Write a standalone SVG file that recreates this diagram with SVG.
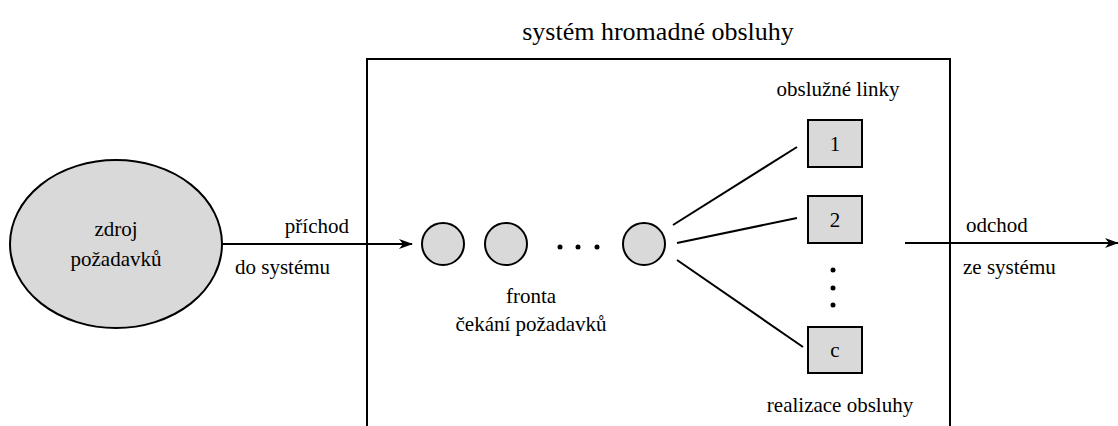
<svg xmlns="http://www.w3.org/2000/svg" width="1118" height="426" viewBox="0 0 1118 426">
<defs>
<marker id="ah" viewBox="0 0 14 10" refX="13" refY="5" markerWidth="14" markerHeight="10" markerUnits="userSpaceOnUse" orient="auto">
<path d="M0,0 L14,5 L0,10 L4,5 Z" fill="#000"/>
</marker>
</defs>
<text font-family="Times New Roman, Liberation Serif, serif" font-size="26" x="658" y="40" text-anchor="middle">systém hromadné obsluhy</text>
<g id="system" fill="none" stroke="#000" stroke-width="2"><path d="M367,426 V59 H950 V426"/></g>
<g id="source"><ellipse fill="#d9d9d9" stroke="#000" stroke-width="2" cx="116" cy="244" rx="106" ry="84"/>
<text font-family="Times New Roman, Liberation Serif, serif" font-size="21" x="116" y="236" text-anchor="middle">zdroj</text>
<text font-family="Times New Roman, Liberation Serif, serif" font-size="21" x="116" y="266" text-anchor="middle">požadavků</text></g>
<g id="queue">
<g fill="#d9d9d9" stroke="#000" stroke-width="2">
<circle cx="443" cy="244" r="21"/>
<circle cx="506" cy="244" r="21"/>
<circle cx="644" cy="244" r="21"/>
</g>
<circle cx="560" cy="247" r="2.5"/><circle cx="578" cy="247" r="2.5"/><circle cx="597" cy="247" r="2.5"/>
<text font-family="Times New Roman, Liberation Serif, serif" font-size="21" x="531" y="303" text-anchor="middle">fronta</text>
<text font-family="Times New Roman, Liberation Serif, serif" font-size="21" x="531" y="331" text-anchor="middle">čekání požadavků</text>
</g>
<g id="server1"><rect fill="#d9d9d9" stroke="#000" stroke-width="2" x="808" y="120" width="54" height="47"/><text font-family="Times New Roman, Liberation Serif, serif" font-size="21" x="835" y="151" text-anchor="middle">1</text></g>
<g id="server2"><rect fill="#d9d9d9" stroke="#000" stroke-width="2" x="808" y="196" width="54" height="47"/><text font-family="Times New Roman, Liberation Serif, serif" font-size="21" x="835" y="227" text-anchor="middle">2</text></g>
<g id="serverc"><rect fill="#d9d9d9" stroke="#000" stroke-width="2" x="808" y="327" width="54" height="46"/><text font-family="Times New Roman, Liberation Serif, serif" font-size="21" x="835" y="357" text-anchor="middle">c</text></g>
<g id="vdots"><circle cx="833" cy="270" r="2.5"/><circle cx="833" cy="288" r="2.5"/><circle cx="833" cy="305" r="2.5"/></g>
<text font-family="Times New Roman, Liberation Serif, serif" font-size="21" x="838" y="96" text-anchor="middle">obslužné linky</text>
<text font-family="Times New Roman, Liberation Serif, serif" font-size="21" x="840" y="412" text-anchor="middle">realizace obsluhy</text>
<g id="connectors" stroke="#000" stroke-width="2" fill="none">
<line x1="222" y1="244" x2="412" y2="244" marker-end="url(#ah)"/>
<line x1="673" y1="225" x2="797" y2="147"/>
<line x1="677" y1="243" x2="797" y2="218"/>
<line x1="677" y1="260" x2="803" y2="347"/>
<line x1="905" y1="243" x2="1118" y2="243" marker-end="url(#ah)"/>
</g>
<text font-family="Times New Roman, Liberation Serif, serif" font-size="21" x="349" y="233" text-anchor="end">příchod</text>
<text font-family="Times New Roman, Liberation Serif, serif" font-size="21" x="235" y="274">do systému</text>
<text font-family="Times New Roman, Liberation Serif, serif" font-size="21" x="966" y="232">odchod</text>
<text font-family="Times New Roman, Liberation Serif, serif" font-size="21" x="963" y="274">ze systému</text>
</svg>
